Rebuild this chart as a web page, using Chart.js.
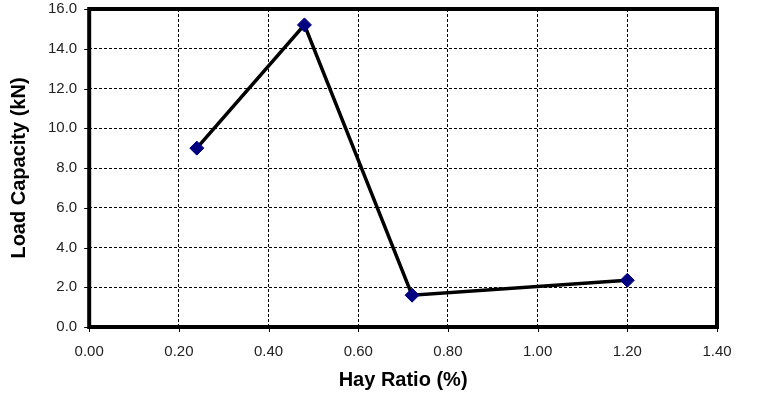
<!DOCTYPE html>
<html>
<head>
<meta charset="utf-8">
<script src="https://cdn.jsdelivr.net/npm/chart.js@4/dist/chart.umd.min.js"></script>
<style>
  html, body { margin: 0; padding: 0; background: #fff; }
  #wrap { width: 759px; height: 398px; }
</style>
</head>
<body>
<div id="wrap"><canvas id="lineChart"></canvas></div>
<script>
// dữ liệu
var hayRatio = [0.24, 0.48, 0.72, 1.2];
var loadCapacity = [9.0, 15.2, 1.6, 2.35];
var xTicks = [0, 0.2, 0.4, 0.6, 0.8, 1.0, 1.2, 1.4];
var yTicks = [0, 2, 4, 6, 8, 10, 12, 14, 16];

// khung viền đen dày + vạch chia ngắn bên ngoài
var frame = {
  id: "frame",
  beforeDatasetsDraw: function (chart) {
    var a = chart.chartArea;
    var c = chart.ctx;
    c.save();
    c.strokeStyle = "#000";
    c.lineWidth = 1;
    xTicks.forEach(function (v) {
      var px = Math.round(chart.scales.x.getPixelForValue(v)) + 0.5;
      c.beginPath();
      c.moveTo(px, a.bottom);
      c.lineTo(px, a.bottom + 5);
      c.stroke();
    });
    yTicks.forEach(function (v) {
      var py = Math.round(chart.scales.y.getPixelForValue(v)) + 0.5;
      c.beginPath();
      c.moveTo(a.left - 5, py);
      c.lineTo(a.left, py);
      c.stroke();
    });
    c.lineWidth = 4;
    c.strokeRect(a.left, a.top, a.right - a.left, a.bottom - a.top);
    c.restore();
  },
};

var ctx = document.getElementById("lineChart").getContext("2d");
var myChart = new Chart(ctx, {
  type: "scatter",
  data: {
    datasets: [
      {
        data: hayRatio.map(function (x, i) {
          return { x: x, y: loadCapacity[i] };
        }),
        showLine: true,
        borderColor: "#000",
        borderWidth: 3.5,
        pointStyle: "rectRot",
        pointRadius: 7,
        pointBackgroundColor: "#000080",
        pointBorderColor: "#000080",
        pointBorderWidth: 1,
      },
    ],
  },
  options: {
    responsive: true,
    maintainAspectRatio: false,
    animation: false,
    layout: { padding: { top: 0, right: 42, left: 3, bottom: 2 } },
    plugins: {
      legend: { display: false },
      tooltip: { enabled: false },
    },
    scales: {
      x: {
        type: "linear",
        min: 0,
        max: 1.4,
        afterBuildTicks: function (s) {
          s.ticks = xTicks.map(function (v) { return { value: v }; });
        },
        ticks: {
          color: "#222",
          font: { family: "Liberation Sans", size: 15 },
          padding: 12,
          callback: function (v) { return Number(v).toFixed(2); },
        },
        grid: { color: "#000", lineWidth: 1, tickLength: 4, tickColor: "rgba(0,0,0,0)" },
        border: { display: false, dash: [3, 2] },
        title: {
          display: true,
          text: "Hay Ratio (%)",
          color: "#000",
          font: { family: "Liberation Sans", size: 20, weight: "bold" },
          padding: { top: -5 },
        },
      },
      y: {
        min: 0,
        max: 16,
        afterBuildTicks: function (s) {
          s.ticks = yTicks.map(function (v) { return { value: v }; });
        },
        ticks: {
          color: "#222",
          font: { family: "Liberation Sans", size: 15 },
          padding: 0,
          callback: function (v) { return Number(v).toFixed(1); },
        },
        grid: { color: "#000", lineWidth: 1, tickLength: 12, tickColor: "rgba(0,0,0,0)" },
        border: { display: false, dash: [3, 2] },
        title: {
          display: true,
          text: "Load Capacity (kN)",
          color: "#000",
          font: { family: "Liberation Sans", size: 20, weight: "bold" },
          padding: { bottom: 17 },
        },
      },
    },
  },
  plugins: [frame],
});
</script>
</body>
</html>
